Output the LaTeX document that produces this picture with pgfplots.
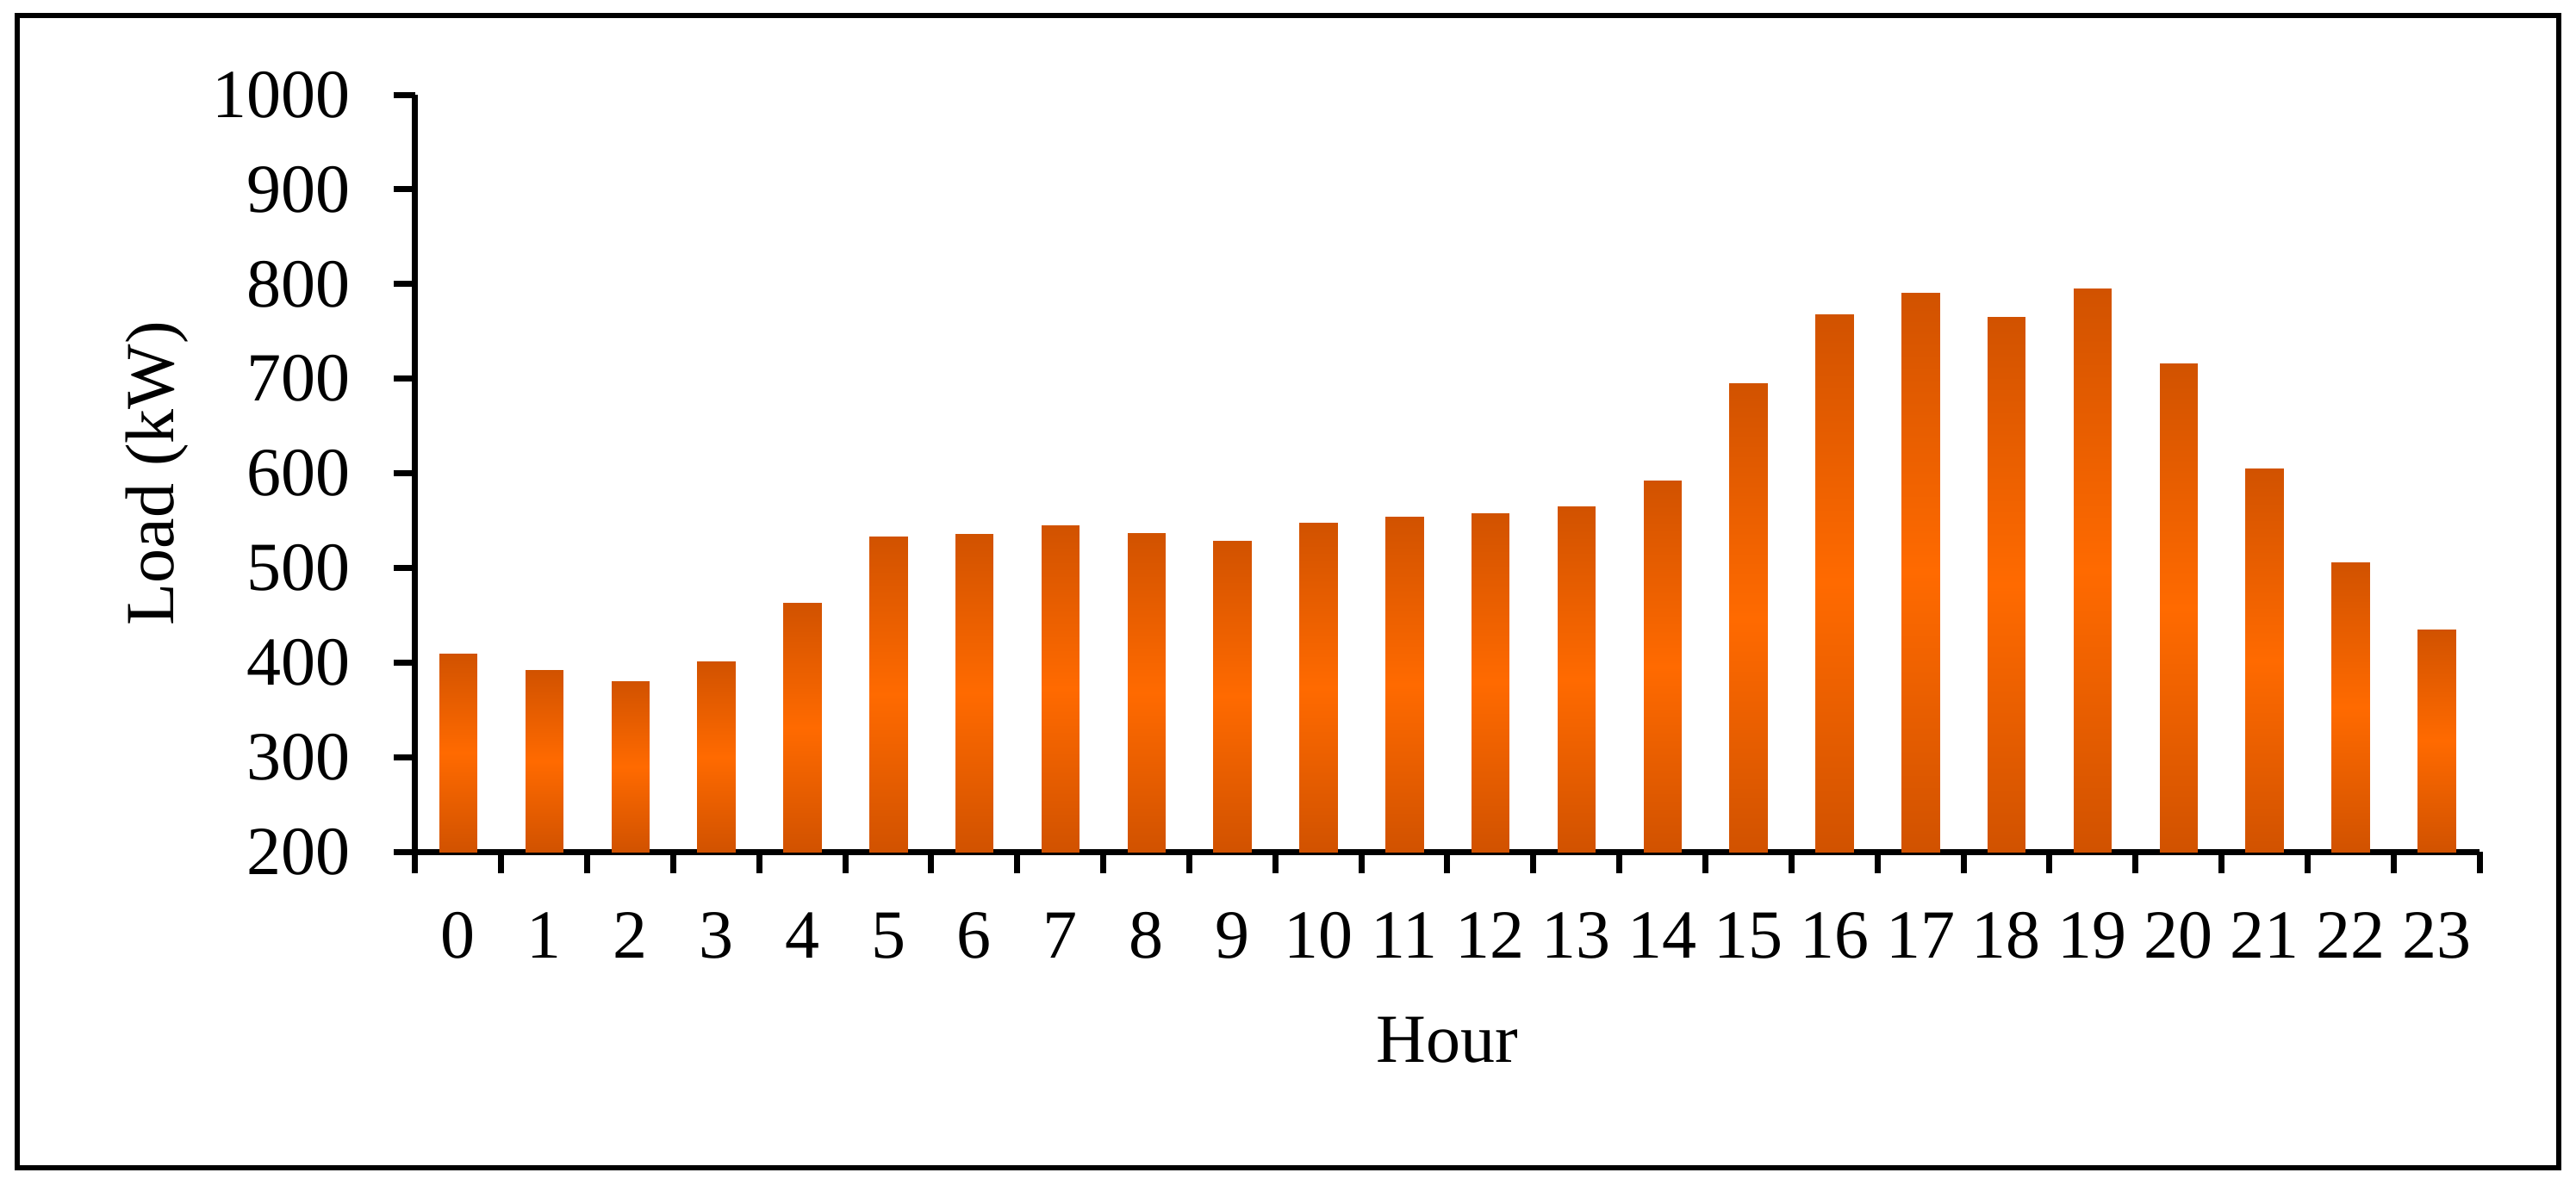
\documentclass[border=0pt]{standalone}
\usepackage{fontspec}
\setmainfont{Liberation Serif}
\usepackage{pgfplots}
\pgfplotsset{compat=1.18}
\usepackage{pgfplotstable}

\pgfplotstableread{
hour load
0 409
1 392
2 380
3 401
4 463
5 533
6 536
7 545
8 537
9 529
10 548
11 554
12 558
13 565
14 592
15 695
16 768
17 791
18 765
19 795
20 716
21 605
22 506
23 435
}\loadtable

\begin{document}
\begin{tikzpicture}[font=\fontsize{20}{24}\selectfont]
\begin{axis}[
  at={(0,0)}, anchor=south west,
  scale only axis, width=599pt, height=219.75pt,
  xmin=-0.5, xmax=23.5, ymin=200, ymax=1000,
  axis lines*=left,
  axis line style={line width=1.75pt, black},
  xtick={0,...,23},
  minor xtick={-0.5,0.5,...,23.5},
  ytick={200,300,...,1000},
  minor ytick={200,300,...,1000},
  tick align=outside,
  major tick length=0pt, minor tick length=6.25pt,
  every tick/.style={line width=1.75pt, black},
  /pgf/number format/assume math mode=true,
  /pgf/number format/1000 sep={},
  xticklabel style={anchor=base, yshift=-30.75pt, inner sep=0pt},
  yticklabel style={anchor=east, xshift=-18.75pt, inner sep=0pt},
  ylabel={Load (kW)},
  xlabel={Hour},
  every axis y label/.style={at={([xshift=-70pt]axis description cs:0,0.5)}, rotate=90, anchor=base},
  every axis x label/.style={at={([yshift=-61pt]axis description cs:0.5,0)}, anchor=base},
  colormap={barmap}{rgb255(0cm)=(209,82,0); rgb255(1cm)=(255,106,0)},
  point meta min=0, point meta max=1,
  clip=true,
]
\pgfplotsinvokeforeach{0,...,23}{%
  \pgfplotstablegetelem{#1}{load}\of\loadtable
  \let\barval\pgfplotsretval
  \pgfmathsetmacro\xl{#1-0.22}%
  \pgfmathsetmacro\xr{#1+0.22}%
  \pgfmathsetmacro\ym{(200+\barval)/2}%
  \edef\mybar{\noexpand\addplot[patch, shader=interp, point meta=explicit, forget plot] coordinates {
   (\xl,200) [0] (\xr,200) [0] (\xr,\ym) [1]
   (\xl,200) [0] (\xr,\ym) [1] (\xl,\ym) [1]
   (\xl,\ym) [1] (\xr,\ym) [1] (\xr,\barval) [0]
   (\xl,\ym) [1] (\xr,\barval) [0] (\xl,\barval) [0]};}%
  \mybar
}
\end{axis}
\draw[line width=1.5pt] (-115.5pt,-91.75pt) rectangle (622pt,242.75pt);
\pgfresetboundingbox
\path[use as bounding box] (-120.5pt,-96.5pt) rectangle (627pt,247.25pt);
\end{tikzpicture}
\end{document}
